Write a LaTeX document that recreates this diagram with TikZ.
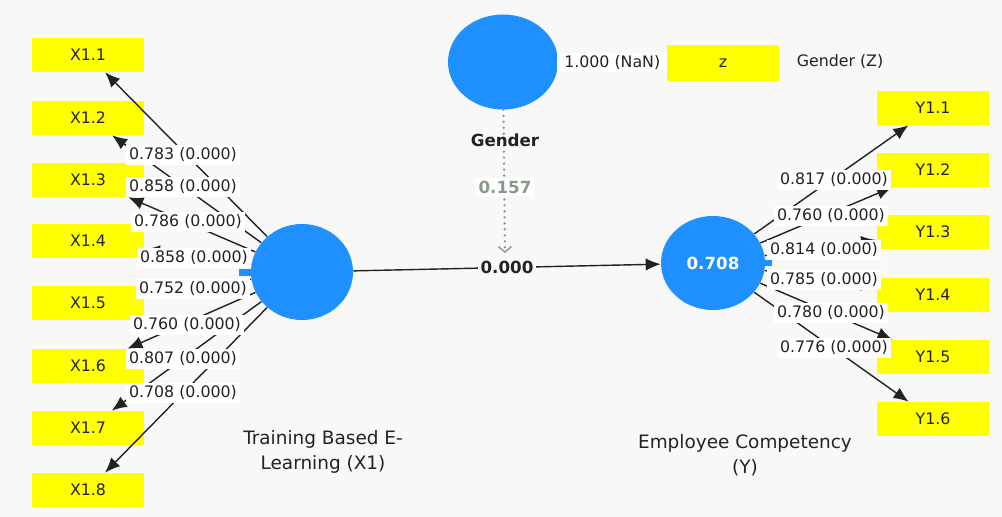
\documentclass[tikz,border=0pt]{standalone}
\usepackage{fontspec}
\setmainfont{DejaVu Sans}
\usepackage{tikz}
\usetikzlibrary{arrows.meta, calc, shapes.geometric}
\definecolor{plsblue}{HTML}{1E90FF}
\definecolor{plsyellow}{HTML}{FFFF00}
\definecolor{plsbg}{HTML}{F8F8F8}
\definecolor{plsgrey}{HTML}{8A9A8A}
\definecolor{plsink}{HTML}{222222}
\tikzset{
  construct/.style={ellipse, fill=plsblue, minimum width=2.04cm, minimum height=1.92cm,
                    inner sep=0pt, text=white, font=\bfseries\fontsize{9.5}{11}\selectfont},
  indicator/.style={rectangle, fill=plsyellow, minimum width=2.26cm, minimum height=0.68cm,
                    inner sep=0pt, text=plsink, font=\fontsize{9}{10}\selectfont},
  loading/.style={fill=white, inner sep=1.6pt, text=plsink, font=\fontsize{9}{10}\selectfont},
  arrow/.style={-{Latex[length=3mm,width=2.5mm]}, line width=0.8pt, draw=plsink},
  lvname/.style={align=center, text=plsink, font=\fontsize{10.5}{14}\selectfont}
}

\begin{document}
\begin{tikzpicture}[x=0.02cm, y=-0.02cm]
    \fill[plsbg] (0,0) rectangle (1002,517);
    \useasboundingbox (0,0) rectangle (1002,517);

    \node[construct] (X1) at (302,272) {};
    \node[construct, minimum width=2.08cm, minimum height=1.88cm] (Y) at (713,263) {0.708};
    \node[construct, minimum width=2.2cm, minimum height=1.9cm] (Z) at (503,62) {};
    \fill[plsblue] ($(X1.west)+(-12,-3)$) rectangle ++(14,7);
    \fill[plsblue] ($(Y.east)+(-2,-3)$) rectangle ++(9,6);

    \node[indicator] (x11) at (88,55) {X1.1};
    \node[indicator] (x12) at (88,118) {X1.2};
    \node[indicator] (x13) at (88,180) {X1.3};
    \node[indicator] (x14) at (88,241) {X1.4};
    \node[indicator] (x15) at (88,303) {X1.5};
    \node[indicator] (x16) at (88,366) {X1.6};
    \node[indicator] (x17) at (88,428) {X1.7};
    \node[indicator] (x18) at (88,490) {X1.8};

    \node[indicator] (y11) at (933,108) {Y1.1};
    \node[indicator] (y12) at (933,170) {Y1.2};
    \node[indicator] (y13) at (933,232) {Y1.3};
    \node[indicator] (y14) at (933,295) {Y1.4};
    \node[indicator] (y15) at (933,357) {Y1.5};
    \node[indicator] (y16) at (933,419) {Y1.6};

    \node[indicator, minimum height=0.74cm] (zi) at (723,63) {z};
    \node[text=plsink, font=\fontsize{9}{10}\selectfont] (zname) at (840,62) {Gender (Z)};

    \node[lvname] (x1name) at (323,452) {Training Based E-\\Learning (X1)};
    \node[lvname] (yname) at (745,455) {Employee Competency\\(Y)};

    \draw[arrow] (X1) -- (x11);
    \draw[arrow] (X1) -- (x12);
    \draw[arrow] (X1) -- (x13);
    \draw[arrow] (X1) -- (x14);
    \draw[arrow] (X1) -- (x15);
    \draw[arrow] (X1) -- (x16);
    \draw[arrow] (X1) -- (x17);
    \draw[arrow] (X1) -- (x18);
    \draw[arrow] (Y) -- (y11);
    \draw[arrow] (Y) -- (y12);
    \draw[arrow] (Y) -- (y13);
    \draw[arrow] (Y) -- (y14);
    \draw[arrow] (Y) -- (y15);
    \draw[arrow] (Y) -- (y16);
    \draw[line width=0.8pt, plsink] (Z) -- node[loading, minimum width=2.2cm]{1.000 (NaN)} (zi);

    \coordinate (zend) at (505,253);
    \draw[plsgrey, line width=1.5pt, line cap=round, dash pattern=on 0pt off 3.4pt,
          -{Straight Barb[length=1.1mm,width=2.6mm,line width=0.8pt]}] (Z) -- (zend);
    \node[text=plsink, font=\bfseries\fontsize{9.5}{11}\selectfont] (zlabel) at (505,140) {Gender};
    \node[loading, text=plsgrey, font=\bfseries\fontsize{9.5}{11}\selectfont] (zeff) at (505,187) {0.157};

    \draw[arrow] (X1) -- node[loading, fill=plsbg, font=\bfseries\fontsize{9.5}{11}\selectfont]{0.000} (Y);

    \node[loading] (lx11) at (183,155) {0.783 (0.000)};
    \node[loading] (lx12) at (183,187) {0.858 (0.000)};
    \node[loading] (lx13) at (188,222) {0.786 (0.000)};
    \node[loading] (lx14) at (194,258) {0.858 (0.000)};
    \node[loading] (lx15) at (193,289) {0.752 (0.000)};
    \node[loading] (lx16) at (187,325) {0.760 (0.000)};
    \node[loading] (lx17) at (183,359) {0.807 (0.000)};
    \node[loading] (lx18) at (183,393) {0.708 (0.000)};

    \node[loading] (ly11) at (834,180) {0.817 (0.000)};
    \node[loading] (ly12) at (831,216) {0.760 (0.000)};
    \node[loading] (ly13) at (824,250) {0.814 (0.000)};
    \node[loading] (ly14) at (824,280) {0.785 (0.000)};
    \node[loading] (ly15) at (831,313) {0.780 (0.000)};
    \node[loading] (ly16) at (834,348) {0.776 (0.000)};
\end{tikzpicture}
\end{document}
